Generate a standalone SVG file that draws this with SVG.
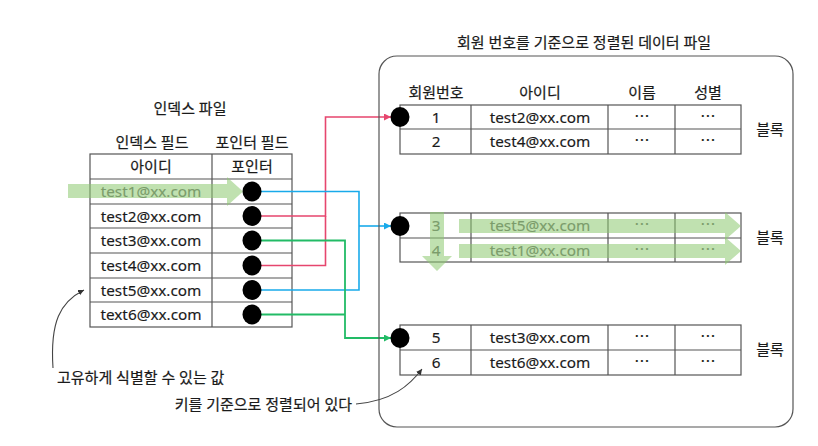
<svg xmlns="http://www.w3.org/2000/svg" width="818" height="446" viewBox="0 0 818 446">
<defs>
<style>
text{font-family:"Noto Sans","Noto Sans CJK KR",sans-serif;fill:#1a1a1a;text-anchor:middle}
.ko{font-size:15px;stroke:#1a1a1a;stroke-width:0.22}
.lt{font-size:15.3px;stroke:#1a1a1a;stroke-width:0.15}
.dim{fill:#666;stroke:#666}
.grid{fill:none;stroke:#555;stroke-width:1.2}
.dot{fill:#000}
.hl{fill:#8cc870;opacity:0.55}
.red{fill:none;stroke:#e6466e;stroke-width:1.6}
.blue{fill:none;stroke:#19aaea;stroke-width:1.6}
.green{fill:none;stroke:#22bb66;stroke-width:1.8}
.note{fill:none;stroke:#444;stroke-width:1.1}
</style>
<marker id="ar" markerUnits="userSpaceOnUse" markerWidth="8" markerHeight="8" refX="7" refY="3.5" orient="auto"><path d="M0,0 L7,3.5 L0,7 z" fill="#e6466e"/></marker>
<marker id="ab" markerUnits="userSpaceOnUse" markerWidth="8" markerHeight="8" refX="7" refY="3.5" orient="auto"><path d="M0,0 L7,3.5 L0,7 z" fill="#19aaea"/></marker>
<marker id="ag" markerUnits="userSpaceOnUse" markerWidth="8" markerHeight="8" refX="7" refY="3.5" orient="auto"><path d="M0,0 L7,3.5 L0,7 z" fill="#22bb66"/></marker>
<marker id="an" markerUnits="userSpaceOnUse" markerWidth="8" markerHeight="8" refX="6" refY="3" orient="auto"><path d="M0,0 L6,3 L0,6 z" fill="#333"/></marker>
</defs>
<rect width="818" height="446" fill="#fff"/>

<g id="index-file">
<text class="ko" x="190" y="114">인덱스 파일</text>
<text class="ko" x="152" y="148">인덱스 필드</text>
<text class="ko" x="252" y="148">포인터 필드</text>
<rect class="grid" x="90" y="154" width="202" height="173"/>
<path class="grid" d="M212,154 V327 M90,179 H292 M90,204 H292 M90,228 H292 M90,253 H292 M90,278 H292 M90,302 H292"/>
<text class="ko" x="151" y="172">아이디</text>
<text class="ko" x="252" y="172">포인터</text>
<text class="lt dim" x="151" y="197">test1@xx.com</text>
<text class="lt" x="151" y="222">test2@xx.com</text>
<text class="lt" x="151" y="246">test3@xx.com</text>
<text class="lt" x="151" y="271">test4@xx.com</text>
<text class="lt" x="151" y="296">test5@xx.com</text>
<text class="lt" x="151" y="320">text6@xx.com</text>
</g>

<g id="connectors">
<path class="red" d="M252,216 H325.5 V117 H391" marker-end="url(#ar)"/>
<path class="red" d="M252,265.5 H325.5 V216"/>
<path class="blue" d="M252,191.5 H359 V290 H252"/>
<path class="blue" d="M359,226 H391" marker-end="url(#ab)"/>
<path class="green" d="M252,240.5 H345 V338 H391" marker-end="url(#ag)"/>
<path class="green" d="M252,314.5 H345"/>
</g>

<g id="pointers">
<ellipse class="dot" cx="252" cy="191.5" rx="9.5" ry="10"/>
<ellipse class="dot" cx="252" cy="216" rx="9.5" ry="10"/>
<ellipse class="dot" cx="252" cy="240.5" rx="9.5" ry="10"/>
<ellipse class="dot" cx="252" cy="265.5" rx="9.5" ry="10"/>
<ellipse class="dot" cx="252" cy="290" rx="9.5" ry="10"/>
<ellipse class="dot" cx="252" cy="314.5" rx="9.5" ry="10"/>
</g>

<g id="scan-arrow">
<path class="hl" d="M68,184 H227 V177 L243,191.5 L227,206 V198 H68 z"/>
</g>

<g id="data-file">
<text class="ko" x="584" y="48">회원 번호를 기준으로 정렬된 데이터 파일</text>
<rect class="grid" x="379" y="56" width="414" height="371" rx="18"/>
<text class="ko" x="436" y="98">회원번호</text>
<text class="ko" x="540" y="98">아이디</text>
<text class="ko" x="642" y="98">이름</text>
<text class="ko" x="708" y="98">성별</text>
</g>

<g id="block-1">
<rect class="grid" x="400" y="105" width="341" height="49"/>
<path class="grid" d="M400,129 H741 M471,105 V154 M608,105 V154 M675,105 V154"/>
<text class="lt" x="436" y="123">1</text>
<text class="lt" x="540" y="123">test2@xx.com</text>
<text class="lt" x="642" y="122">⋯</text>
<text class="lt" x="708" y="122">⋯</text>
<text class="lt" x="436" y="147">2</text>
<text class="lt" x="540" y="147">test4@xx.com</text>
<text class="lt" x="642" y="146">⋯</text>
<text class="lt" x="708" y="146">⋯</text>
<text class="ko" x="770" y="135">블록</text>
<ellipse class="dot" cx="400" cy="117" rx="9.5" ry="10"/>
</g>

<g id="block-2">
<rect class="grid" x="400" y="213" width="341" height="49"/>
<path class="grid" d="M400,238 H741 M471,213 V262 M608,213 V262 M675,213 V262"/>
<text class="lt dim" x="436" y="231">3</text>
<text class="lt dim" x="540" y="231">test5@xx.com</text>
<text class="lt dim" x="642" y="230">⋯</text>
<text class="lt dim" x="708" y="230">⋯</text>
<text class="lt dim" x="436" y="256">4</text>
<text class="lt dim" x="540" y="256">test1@xx.com</text>
<text class="lt dim" x="642" y="255">⋯</text>
<text class="lt dim" x="708" y="255">⋯</text>
<text class="ko" x="770" y="243">블록</text>
<ellipse class="dot" cx="400" cy="226" rx="9.5" ry="10"/>
<path class="hl" d="M430,212 H444 V256 H452 L437,271 L422,256 H430 z"/>
<path class="hl" d="M459,219 H725 V212 L741,226 L725,240 V233 H459 z"/>
<path class="hl" d="M459,244 H725 V237 L741,251 L725,265 V258 H459 z"/>
</g>

<g id="block-3">
<rect class="grid" x="400" y="325" width="341" height="50"/>
<path class="grid" d="M400,350 H741 M471,325 V375 M608,325 V375 M675,325 V375"/>
<text class="lt" x="436" y="343">5</text>
<text class="lt" x="540" y="343">test3@xx.com</text>
<text class="lt" x="642" y="342">⋯</text>
<text class="lt" x="708" y="342">⋯</text>
<text class="lt" x="436" y="368">6</text>
<text class="lt" x="540" y="368">test6@xx.com</text>
<text class="lt" x="642" y="367">⋯</text>
<text class="lt" x="708" y="367">⋯</text>
<text class="ko" x="770" y="355">블록</text>
<ellipse class="dot" cx="400" cy="338" rx="9.5" ry="10"/>
</g>

<g id="note-unique">
<path class="note" d="M53,368 C50,322 60,302 84,290" marker-end="url(#an)"/>
<text class="ko" x="57" y="383" style="text-anchor:start">고유하게 식별할 수 있는 값</text>
</g>

<g id="note-sorted">
<path class="note" d="M356,404 C392,401 410,385 422,369" marker-end="url(#an)"/>
<text class="ko" x="352" y="410" style="text-anchor:end">키를 기준으로 정렬되어 있다</text>
</g>
</svg>
